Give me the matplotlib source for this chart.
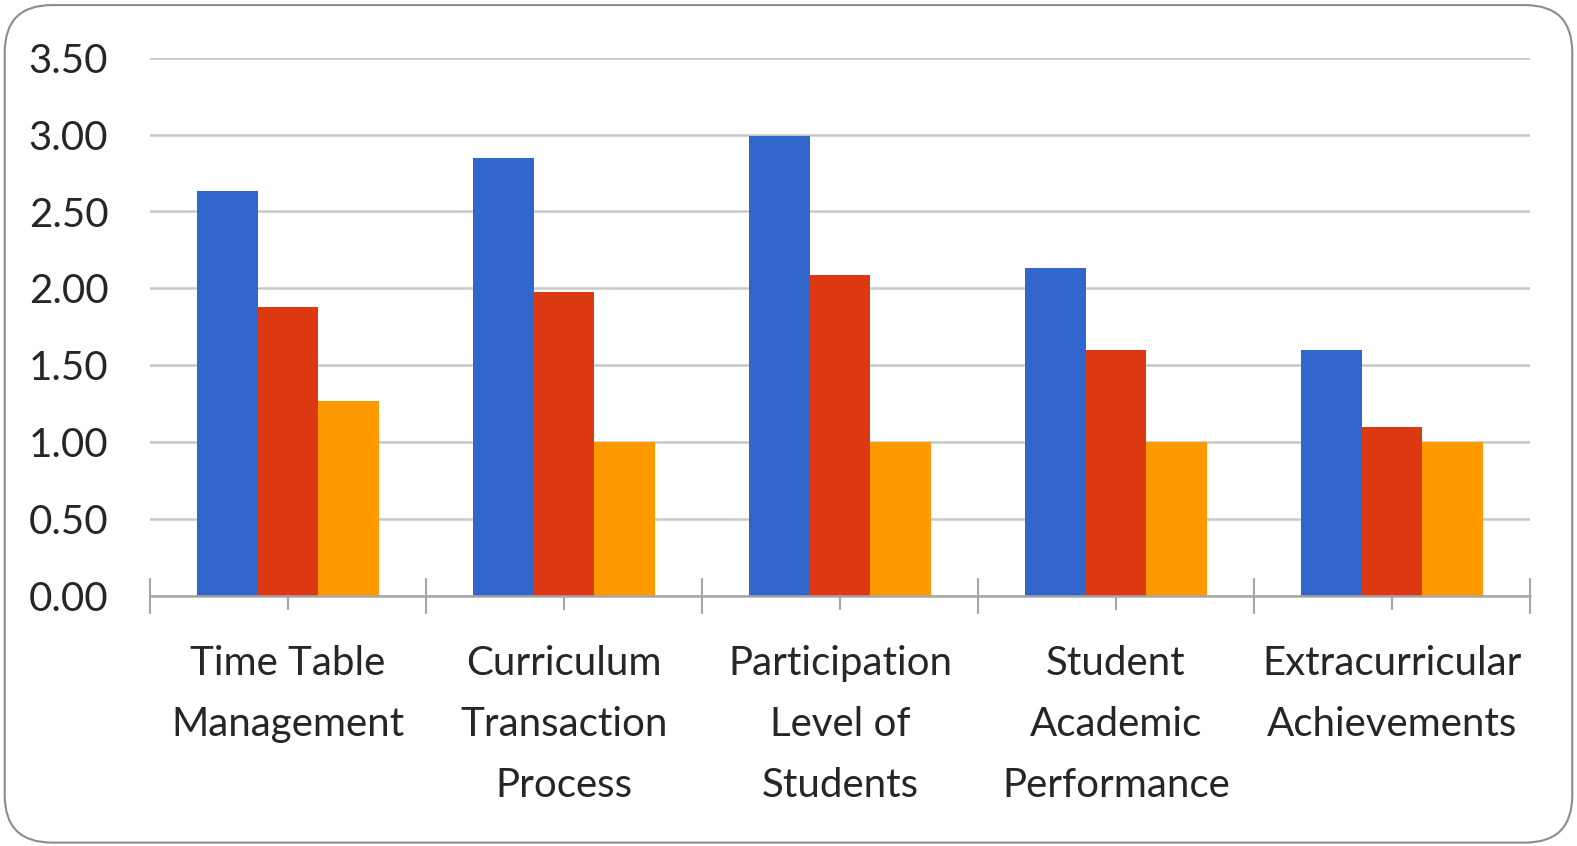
import numpy as np
import matplotlib.pyplot as plt
from matplotlib.patches import FancyBboxPatch
from matplotlib.ticker import FixedLocator, FormatStrFormatter

# Dados
categorias = ['Time Table\nManagement', 'Curriculum\nTransaction\nProcess',
              'Participation\nLevel of\nStudents', 'Student\nAcademic\nPerformance',
              'Extracurricular\nAchievements']
serie_azul = [2.63, 2.85, 2.99, 2.13, 1.60]
serie_vermelha = [1.88, 1.98, 2.09, 1.60, 1.10]
serie_laranja = [1.27, 1.00, 1.00, 1.00, 1.00]
y_ticks = [0.0, 0.5, 1.0, 1.5, 2.0, 2.5, 3.0, 3.5]

cores = ['#3366CC', '#DC3912', '#FF9900']

plt.rcParams['font.family'] = ['Lato', 'DejaVu Sans']

fig = plt.figure(figsize=(15.77, 8.46), dpi=100)
ax = fig.add_axes([0.0951, 0.295, 0.875, 0.637])

x = np.arange(len(categorias))
largura = 0.22
for i, (valores, cor) in enumerate(zip([serie_azul, serie_vermelha, serie_laranja], cores)):
    ax.bar(x + (i - 1) * largura, valores, largura, color=cor, zorder=2)

ax.set_xlim(-0.5, len(categorias) - 0.5)
ax.set_ylim(0, 3.5)
ax.set_yticks(y_ticks)
ax.yaxis.set_major_formatter(FormatStrFormatter('%.2f'))
ax.tick_params(axis='y', length=0, pad=30, labelsize=29, labelcolor='#262626')

ax.set_xticks(x)
ax.set_xticklabels(categorias, fontsize=29, color='#262626', linespacing=1.8)
ax.xaxis.set_minor_locator(FixedLocator(np.arange(-0.5, len(categorias), 1.0)))
# ticks: principais no centro das categorias, secundarios nas fronteiras
ax.tick_params(axis='x', which='major', direction='inout', length=19.5, width=1.5,
               color='#a6a6a6', pad=25)
ax.tick_params(axis='x', which='minor', direction='inout', length=26, width=1.5,
               color='#a6a6a6')

ax.grid(axis='y', color='#c8c8c8', linewidth=1.8, zorder=0)
for linha in ax.get_ygridlines():
    linha.set_zorder(1)
for s in ['top', 'right', 'left']:
    ax.spines[s].set_visible(False)
ax.spines['bottom'].set_color('#a6a6a6')
ax.spines['bottom'].set_linewidth(1.8)
ax.spines['bottom'].set_zorder(3)

# Moldura arredondada
moldura = FancyBboxPatch((0.003, 0.004), 0.994, 0.99,
                         boxstyle='round,pad=0,rounding_size=0.03',
                         transform=fig.transFigure, facecolor='none',
                         edgecolor='#8c8c8c', linewidth=1.5, mutation_aspect=1.86)
fig.patches.append(moldura)

fig.savefig('out.png', dpi=100)
